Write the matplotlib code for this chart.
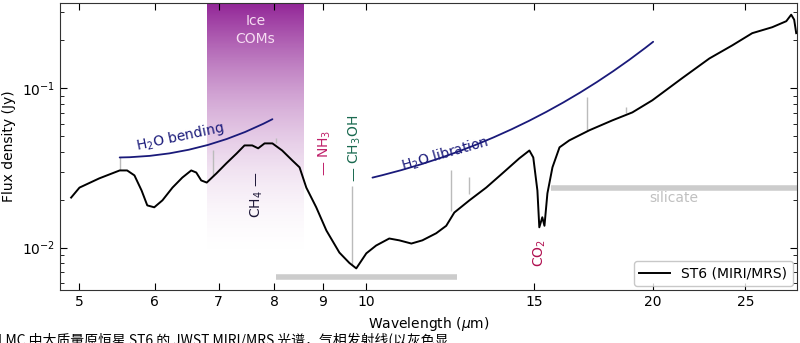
import numpy as np
import matplotlib.pyplot as plt
from matplotlib.ticker import FixedLocator, NullLocator, FixedFormatter

plt.rcParams['font.family'] = ['DejaVu Sans', 'Noto Sans CJK SC']

# ST6 spectrum
wave = [4.90, 5.00, 5.245, 5.51, 5.61, 5.71, 5.81, 5.89, 5.99, 6.11, 6.26, 6.41,
        6.55, 6.63, 6.71, 6.80, 6.96, 7.13, 7.31, 7.45, 7.59, 7.70, 7.82, 7.97,
        8.16, 8.36, 8.51, 8.65, 8.86, 9.08, 9.37, 9.60, 9.76, 10.0, 10.24, 10.57,
        10.83, 11.15, 11.45, 11.84, 12.13, 12.37, 12.83, 13.36, 13.89, 14.47,
        14.83, 14.97, 15.12, 15.19, 15.30, 15.38, 15.49, 15.68, 15.95, 16.33,
        17.14, 18.12, 19.02, 19.96, 21.46, 22.91, 24.21, 25.41, 26.67, 27.59,
        27.92, 28.12, 28.26]
flux = [0.0206, 0.0238, 0.0272, 0.0305, 0.0305, 0.0284, 0.0228, 0.0184, 0.0179,
        0.0198, 0.0238, 0.0275, 0.0305, 0.0296, 0.0264, 0.0256, 0.0292, 0.0338,
        0.0390, 0.0438, 0.0438, 0.0420, 0.0451, 0.0451, 0.0407, 0.0353, 0.0319,
        0.0238, 0.0179, 0.0128, 0.0093, 0.0080, 0.0074, 0.0092, 0.0103, 0.0114,
        0.0111, 0.0106, 0.0111, 0.0123, 0.0137, 0.0166, 0.0198, 0.0238, 0.0292,
        0.0363, 0.0407, 0.0368, 0.0228, 0.0134, 0.0155, 0.0137, 0.0219, 0.0319,
        0.0426, 0.0471, 0.0545, 0.0629, 0.0706, 0.0841, 0.116, 0.154, 0.186,
        0.222, 0.242, 0.264, 0.29, 0.27, 0.222]

# gas-phase emission lines (grey): wavelength, bottom flux, top flux
line_wave = [5.51, 6.91, 8.03, 9.66, 12.28, 12.81, 17.03, 18.71]
line_lo = [0.0305, 0.0280, 0.0451, 0.0078, 0.0170, 0.0218, 0.0545, 0.0700]
line_hi = [0.0368, 0.0407, 0.0490, 0.0245, 0.0305, 0.0276, 0.0880, 0.0760]

xticks = [5, 6, 7, 8, 9, 10, 15, 20, 25]

fig = plt.figure(figsize=(8, 3.43), dpi=100)
ax = fig.add_axes([0.075, 0.154, 0.921, 0.837])
ax.set_xscale('log')
ax.set_yscale('log')

# Ice COMs shaded band with vertical gradient (y in axes fraction)
t = np.linspace(0, 1, 200)[:, None]
alpha = 0.95 * np.clip(1 - t / 0.92, 0, 1) ** 2.0
grad = np.zeros((200, 1, 4))
grad[..., 0] = 0.55
grad[..., 1] = 0.10
grad[..., 2] = 0.57
grad[..., 3] = alpha
ax.imshow(grad, extent=[6.81, 8.61, 0, 1], aspect='auto', origin='upper',
          transform=ax.get_xaxis_transform(), zorder=0)
ax.set_xlim(4.77, 28.3)
ax.set_ylim(0.0054, 0.343)
ax.text(7.65, 0.232, 'Ice\nCOMs', color='#f6dcf2', fontsize=10,
        ha='center', va='center', linespacing=1.3)

# grey bars
ax.plot([8.03, 12.46], [0.0065, 0.0065], color='#cccccc', lw=4, solid_capstyle='butt')
ax.plot([15.63, 28.3], [0.0238, 0.0238], color='#cccccc', lw=4, solid_capstyle='butt')
ax.text(21.0, 0.0205, 'silicate', color='#c0c0c0', fontsize=10, ha='center', va='center')

ax.vlines(line_wave, line_lo, line_hi, color='#bbbbbb', lw=1)

ax.plot(wave, flux, color='black', lw=1.4, label='ST6 (MIRI/MRS)', zorder=3)

# water arcs
navy = '#1a1a7a'
ax.annotate('', xy=(7.97, 0.0640), xytext=(5.51, 0.0368),
            arrowprops=dict(arrowstyle='-', color=navy, lw=1.3,
                            connectionstyle='arc3,rad=0.12', shrinkA=0, shrinkB=0))
ax.text(6.38, 0.0495, 'H$_2$O bending', color=navy, fontsize=10,
        rotation=12, ha='center', va='center')
ax.annotate('', xy=(20.0, 0.196), xytext=(10.15, 0.0275),
            arrowprops=dict(arrowstyle='-', color=navy, lw=1.3,
                            connectionstyle='arc3,rad=0.11', shrinkA=0, shrinkB=0))
ax.text(12.1, 0.0385, 'H$_2$O libration', color=navy, fontsize=10,
        rotation=16, ha='center', va='center')

# molecule labels
ax.text(7.68, 0.0215, 'CH$_4$ —', color='#1e1838', fontsize=10, rotation=90,
        ha='center', va='center')
ax.text(9.05, 0.0395, '— NH$_3$', color='#c0206a', fontsize=10, rotation=90,
        ha='center', va='center')
ax.text(9.72, 0.0420, '— CH$_3$OH', color='#1a6a50', fontsize=10, rotation=90,
        ha='center', va='center')
ax.text(15.19, 0.0093, 'CO$_2$', color='#b01050', fontsize=10, rotation=90,
        ha='center', va='center')

ax.xaxis.set_major_locator(FixedLocator(xticks))
ax.xaxis.set_major_formatter(FixedFormatter([str(v) for v in xticks]))
ax.xaxis.set_minor_locator(NullLocator())
ax.tick_params(which='both', direction='in', top=True, right=True, labelsize=10)
ax.tick_params(which='major', length=5)
ax.tick_params(which='minor', length=3)
for s in ax.spines.values():
    s.set_color('#333333')

ax.set_xlabel('Wavelength ($\\mu$m)', fontsize=10, labelpad=4)
ax.set_ylabel('Flux density (Jy)', fontsize=10)

ax.legend(loc='lower right', fontsize=10, frameon=True, edgecolor='#bbbbbb',
          borderaxespad=0.3, handlelength=2.2)

fig.text(-0.002, 0.030, 'LMC 中大质量原恒星 ST6 的 JWST MIRI/MRS 光谱，气相发射线(以灰色显',
         fontsize=10, va='top', ha='left', family=['Noto Sans CJK SC', 'DejaVu Sans'])

fig.savefig('out.png', dpi=100)
